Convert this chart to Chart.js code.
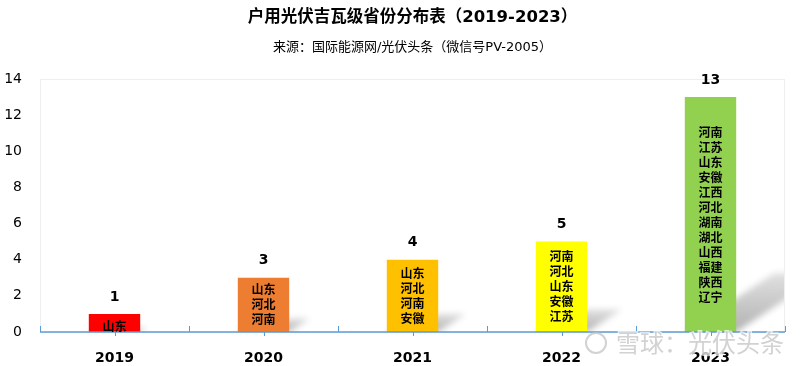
<!DOCTYPE html>
<html>
<head>
<meta charset="utf-8">
<script src="https://cdn.jsdelivr.net/npm/chart.js@4"></script>
<style>
html,body{margin:0;padding:0;background:#fff;}
#wrap{width:800px;height:366px;position:relative;}
</style>
</head>
<body>
<div id="wrap"><canvas id="c"></canvas></div>
<script>
const years = ['2019', '2020', '2021', '2022', '2023'];
const counts = [1, 3, 4, 5, 13];
const provinces = [
  ['山东'],
  ['山东', '河北', '河南'],
  ['山东', '河北', '河南', '安徽'],
  ['河南', '河北', '山东', '安徽', '江苏'],
  ['河南', '江苏', '山东', '安徽', '江西', '河北', '湖南', '湖北', '山西', '福建', '陕西', '辽宁']
];
const barColors = ['#ff0000', '#ed7d31', '#ffc000', '#ffff00', '#92d050'];
const yTicks = [0, 2, 4, 6, 8, 10, 12, 14];
const titleText = '户用光伏吉瓦级省份分布表（2019-2023）';
const subtitleText = '来源：国际能源网/光伏头条（微信号PV-2005）';
const watermarkText = '雪球：光伏头条';

const FONT = "'DejaVu Sans', 'Noto Sans CJK SC', sans-serif";
const CJK = "'Noto Sans CJK SC', sans-serif";

const decor = {
  id: 'decor',
  beforeDatasetsDraw(chart) {
    const ctx = chart.ctx, a = chart.chartArea;
    const meta = chart.getDatasetMeta(0);
    ctx.save();
    ctx.beginPath();
    ctx.rect(a.left, a.top, a.right - a.left, a.bottom - a.top);
    ctx.clip();
    ctx.filter = 'blur(3px)';
    meta.data.forEach((bar) => {
      const p = bar.getProps(['x', 'y', 'base', 'width'], true);
      const h = p.base - p.y;
      const L = p.x - p.width / 2, R = p.x + p.width / 2;
      const dx = 0.38 * h, dy = 0.25 * h;
      const g = ctx.createLinearGradient(0, p.base, 0, p.base - dy);
      g.addColorStop(0, 'rgba(0,0,0,0.30)');
      g.addColorStop(1, 'rgba(0,0,0,0.12)');
      ctx.fillStyle = g;
      ctx.beginPath();
      ctx.moveTo(L, p.base);
      ctx.lineTo(R, p.base);
      ctx.lineTo(R + dx, p.base - dy);
      ctx.lineTo(L + dx, p.base - dy);
      ctx.closePath();
      ctx.fill();
    });
    ctx.restore();
    ctx.save();
    ctx.strokeStyle = '#eeeeee';
    ctx.lineWidth = 1;
    ctx.strokeRect(a.left + 0.5, a.top + 0.5, a.right - a.left - 1, a.bottom - a.top);
    ctx.restore();
  },
  afterDatasetsDraw(chart) {
    const ctx = chart.ctx, a = chart.chartArea;
    const meta = chart.getDatasetMeta(0);
    const xs = chart.scales.x;
    ctx.save();
    ctx.strokeStyle = '#5b9bd5';
    ctx.lineWidth = 1.5;
    ctx.beginPath();
    ctx.moveTo(a.left, a.bottom);
    ctx.lineTo(a.right, a.bottom);
    ctx.stroke();
    ctx.lineWidth = 1;
    ctx.beginPath();
    for (let i = 0; i <= years.length; i++) {
      const x = Math.round(xs.getPixelForValue(i - 0.5)) + 0.5;
      ctx.moveTo(x, a.bottom);
      ctx.lineTo(x, a.bottom - 6);
    }
    for (let i = 0; i < years.length; i++) {
      const x = Math.round(xs.getPixelForValue(i)) + 0.5;
      ctx.moveTo(x, a.bottom);
      ctx.lineTo(x, a.bottom + 4);
    }
    ctx.stroke();
    ctx.restore();
    ctx.save();
    ctx.textAlign = 'center';
    ctx.textBaseline = 'middle';
    ctx.fillStyle = '#000';
    meta.data.forEach((bar, i) => {
      const p = bar.getProps(['x', 'y', 'base'], true);
      ctx.font = 'bold 14px ' + FONT;
      ctx.fillText(String(counts[i]), p.x, p.y - 17);
      const names = provinces[i];
      const lh = 15;
      ctx.font = 'bold 12px ' + CJK;
      const mid = (p.y + p.base) / 2 + (i === 0 ? 3 : 0);
      const start = mid - (names.length - 1) * lh / 2;
      names.forEach((n, k) => ctx.fillText(n, p.x, start + k * lh));
    });
    ctx.restore();
  },
  afterDraw(chart) {
    const ctx = chart.ctx;
    ctx.save();
    ctx.font = '24px ' + CJK;
    ctx.textBaseline = 'middle';
    ctx.textAlign = 'left';
    ctx.lineWidth = 3;
    ctx.strokeStyle = 'rgba(255,255,255,0.7)';
    ctx.fillStyle = 'rgba(195,195,195,0.75)';
    ctx.strokeText(watermarkText, 616, 343);
    ctx.fillText(watermarkText, 616, 343);
    ctx.beginPath();
    ctx.arc(596, 343, 10, 0, Math.PI * 2);
    ctx.lineWidth = 2;
    ctx.strokeStyle = 'rgba(195,195,195,0.75)';
    ctx.stroke();
    ctx.restore();
  }
};

new Chart(document.getElementById('c'), {
  type: 'bar',
  data: {
    labels: years,
    datasets: [{
      data: counts,
      backgroundColor: barColors,
      borderWidth: 0,
      categoryPercentage: 1,
      barPercentage: 0.345
    }]
  },
  options: {
    responsive: true,
    maintainAspectRatio: false,
    animation: false,
    layout: { padding: { left: 0, right: 0, top: 0, bottom: 0 } },
    plugins: {
      legend: { display: false },
      tooltip: { enabled: false },
      title: {
        display: true,
        fullSize: false,
        text: titleText,
        color: '#000',
        font: { family: FONT, size: 16.5, weight: 'bold', lineHeight: 1.2 },
        padding: { top: 8, bottom: 10 }
      },
      subtitle: {
        display: true,
        fullSize: false,
        text: subtitleText,
        color: '#000',
        font: { family: FONT, size: 13, lineHeight: 1.2 },
        padding: { top: 2, bottom: 23.5 }
      }
    },
    scales: {
      x: {
        offset: true,
        grid: { display: false },
        border: { display: false },
        ticks: {
          color: '#000',
          font: { family: FONT, size: 14, weight: 'bold' },
          padding: 10
        },
        afterFit(s) { s.height = 34; }
      },
      y: {
        min: 0,
        max: 14,
        afterBuildTicks(s) { s.ticks = yTicks.map(v => ({ value: v })); },
        grid: { display: false },
        border: { display: false },
        ticks: {
          color: '#000',
          font: { family: FONT, size: 14 },
          padding: 10
        },
        afterFit(s) { s.width = 40; }
      },
      yRight: {
        position: 'right',
        min: 0,
        max: 14,
        grid: { display: false },
        border: { display: false },
        ticks: { display: false },
        afterFit(s) { s.width = 15; }
      }
    }
  },
  plugins: [decor]
});
</script>
</body>
</html>
